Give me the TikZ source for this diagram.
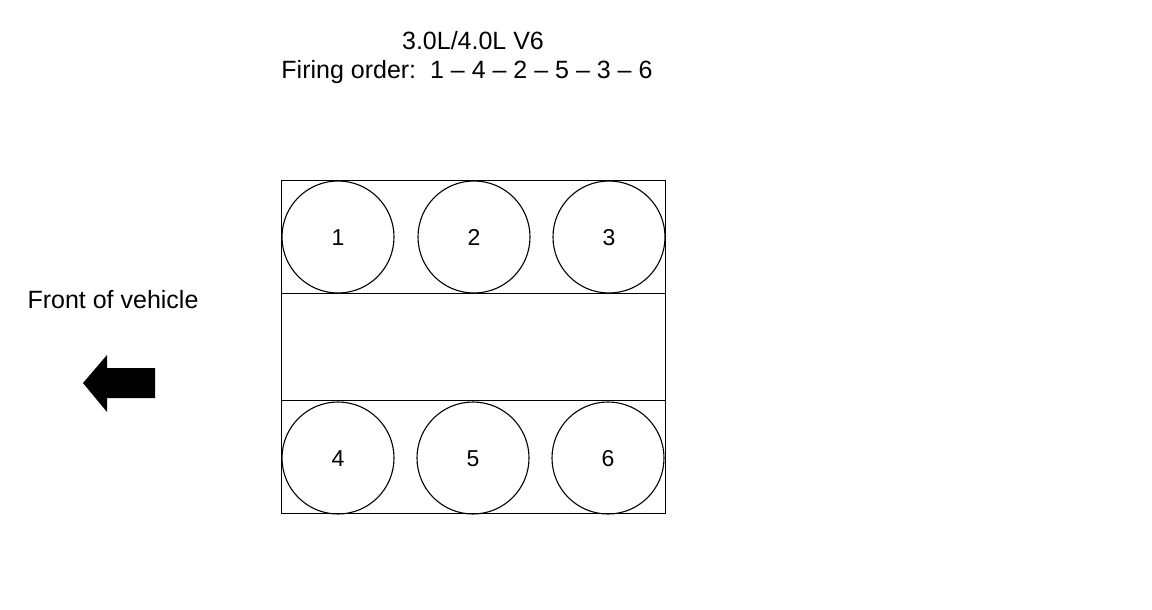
\documentclass[tikz,border=0pt]{standalone}
\usepackage{fontspec}
\setmainfont{Liberation Sans}
\usetikzlibrary{positioning}

\begin{document}
\begin{tikzpicture}[x=1pt, y=-1pt,
    every node/.style={font=\fontsize{25}{29}\selectfont},
    cyl/.style={draw, circle, line width=1.1pt, minimum size=112pt, inner sep=0pt,
      text height=16pt, text depth=0pt, font=\fontsize{23}{27}\selectfont}]
  \useasboundingbox (0,0) rectangle (1152,610);

  % Titles
  \node[anchor=base] (title) at (473,50) {3.0L/4.0L V6};
  \node[anchor=base] (order) at (467,78) {Firing order:\ \ 1 -- 4 -- 2 -- 5 -- 3 -- 6};

  % Block outline
  \draw[line width=1pt] (281,180) rectangle (665,513);
  \draw[line width=1pt] (281,293) -- (665,293);
  \draw[line width=1pt] (281,400) -- (665,400);

  % Cylinders
  \node[cyl] (c1) at (338,237) {1};
  \node[cyl] (c2) at (474,237) {2};
  \node[cyl] (c3) at (609,237) {3};
  \node[cyl] (c4) at (338,458) {4};
  \node[cyl] (c5) at (473,458) {5};
  \node[cyl] (c6) at (608,458) {6};

  % Front of vehicle
  \node[anchor=base] (front) at (113,308) {Front of vehicle};
  \fill (83,383) -- (107,355) -- (107,368) -- (155,368) -- (155,398)
    -- (107,398) -- (107,412) -- cycle;
\end{tikzpicture}
\end{document}
